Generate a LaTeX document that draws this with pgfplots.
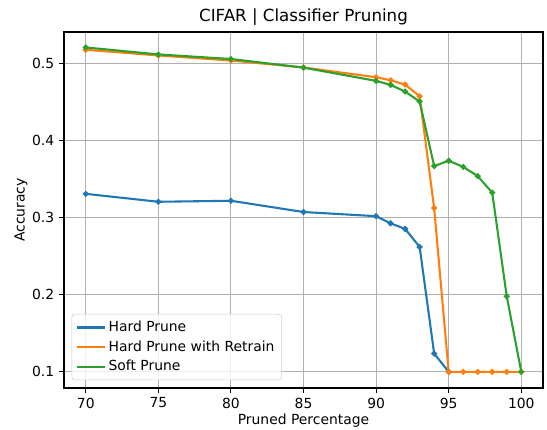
\documentclass[border=0pt]{standalone}
\usepackage{pgfplots}
\pgfplotsset{compat=1.18}
\usepackage{fontspec}
\setmainfont{DejaVu Sans}

\definecolor{tabblue}{HTML}{1F77B4}
\definecolor{taborange}{HTML}{FF7F0E}
\definecolor{tabgreen}{HTML}{2CA02C}
\definecolor{gridgray}{HTML}{B0B0B0}

\begin{document}
\begin{tikzpicture}
\path[use as bounding box] (-46.08pt,-29.52pt) rectangle (347.76pt,279.36pt);
\begin{axis}[
  at={(0,0)},anchor=south west,
  scale only axis,width=344.9pt,height=256.3pt,
  xmin=68.5,xmax=101.5,ymin=0.079,ymax=0.541,
  xtick={70,75,80,85,90,95,100},
  ytick={0.1,0.2,0.3,0.4,0.5},
  yticklabel style={/pgf/number format/fixed,/pgf/number format/precision=1},
  /pgf/number format/assume math mode=true,
  tick label style={font=\fontsize{10}{12}\selectfont},
  label style={font=\fontsize{10}{12}\selectfont},
  xlabel={Pruned Percentage},
  ylabel={Accuracy},
  xlabel shift=-2.5pt,
  ylabel shift=-3.5pt,
  title={CIFAR | Classifier Pruning},
  title style={font=\fontsize{12}{14}\selectfont,yshift=-5pt},
  grid=major,
  major grid style={gridgray,line width=0.8pt},
  axis line style={line width=0.8pt},
  tick style={black,line width=0.8pt},
  tick align=outside,
  major tick length=3.5pt,
  xtick pos=bottom,ytick pos=left,
  legend style={at={(0.016,0.022)},anchor=south west,
    font=\fontsize{10}{12}\selectfont,
    draw=black!20,rounded corners=2pt,fill=white,fill opacity=0.8,text opacity=1,
    row sep=1pt,inner sep=3pt},
  legend cell align=left,
  legend image code/.code={\draw[#1,mark=none,line width=1.5pt] (0cm,0cm) -- (0.7cm,0cm);},
]
\addplot[tabblue,line width=1.5pt,mark=*,mark size=1.3pt] coordinates {
  (70,0.331)(75,0.3207)(80,0.322)(85,0.3074)(90,0.302)(91,0.2927)(92,0.2855)(93,0.2621)(94,0.1237)(95,0.1)};
\addlegendentry{Hard Prune}
\addplot[taborange,line width=1.5pt,mark=*,mark size=1.3pt] coordinates {
  (70,0.518)(75,0.5106)(80,0.504)(85,0.495)(90,0.4823)(91,0.4784)(92,0.4728)(93,0.4577)(94,0.3126)(95,0.1)(96,0.1)(97,0.1)(98,0.1)(99,0.1)(100,0.1)};
\addlegendentry{Hard Prune with Retrain}
\addplot[tabgreen,line width=1.5pt,mark=*,mark size=1.3pt] coordinates {
  (70,0.521)(75,0.5119)(80,0.506)(85,0.4948)(90,0.4776)(91,0.4724)(92,0.4637)(93,0.4508)(94,0.367)(95,0.374)(96,0.366)(97,0.354)(98,0.3326)(99,0.198)(100,0.1)};
\addlegendentry{Soft Prune}
\end{axis}
\end{tikzpicture}
\end{document}
